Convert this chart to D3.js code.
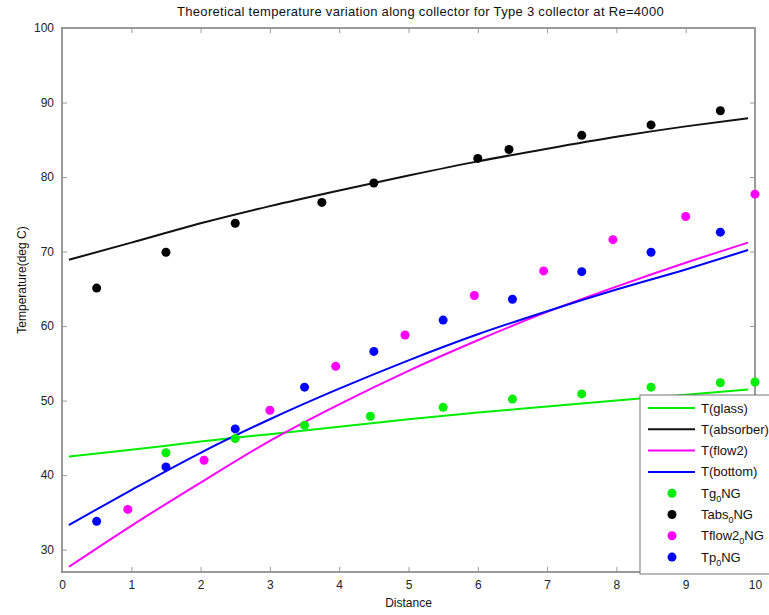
<!DOCTYPE html>
<html>
<head>
<meta charset="utf-8">
<script src="https://cdn.jsdelivr.net/npm/d3@7"></script>
<style>
html,body{margin:0;padding:0;background:#fff;}
svg{display:block;font-family:"Liberation Sans",Arial,sans-serif;}
</style>
</head>
<body>
<svg id="chart" width="769" height="615"></svg>
<script>
// ---- data ----
const titleText = "Theoretical temperature variation along collector for Type 3 collector at Re=4000";
const xLabel = "Distance";
const yLabel = "Temperature(deg C)";
const xTicks = [0,1,2,3,4,5,6,7,8,9,10];
const yTicks = [30,40,50,60,70,80,90,100];

// theoretical curves
const lineX      = [0.1, 1, 2, 3, 4, 5, 6, 7, 8, 9, 9.9];
const tGlass     = [42.5, 43.4, 44.5, 45.5, 46.5, 47.5, 48.4, 49.2, 50.0, 50.8, 51.5];
const tAbsorber  = [68.9, 71.2, 73.8, 76.1, 78.2, 80.2, 82.1, 83.8, 85.4, 86.8, 87.9];
const tFlow2     = [27.7, 33.2, 39.0, 44.6, 49.5, 54.0, 58.1, 61.9, 65.3, 68.5, 71.2];
const tBottom    = [33.3, 38.0, 43.0, 47.5, 51.6, 55.4, 58.9, 62.0, 64.9, 67.6, 70.2];

// measured points
const tgX    = [1.5, 2.5, 3.5, 4.45, 5.5, 6.5, 7.5, 8.5, 9.5, 10];
const tgY    = [43.0, 44.9, 46.7, 47.9, 49.1, 50.2, 50.9, 51.8, 52.4, 52.5];
const tabsX  = [0.5, 1.5, 2.5, 3.75, 4.5, 6.0, 6.45, 7.5, 8.5, 9.5];
const tabsY  = [65.1, 69.9, 73.8, 76.6, 79.2, 82.5, 83.7, 85.6, 87.0, 88.9];
const tflX   = [0.95, 2.05, 3.0, 3.95, 4.95, 5.95, 6.95, 7.95, 9.0, 10.0];
const tflY   = [35.4, 42.0, 48.7, 54.6, 58.8, 64.1, 67.4, 71.6, 74.7, 77.7];
const tpX    = [0.5, 1.5, 2.5, 3.5, 4.5, 5.5, 6.5, 7.5, 8.5, 9.5];
const tpY    = [33.8, 41.1, 46.2, 51.8, 56.6, 60.8, 63.6, 67.3, 69.9, 72.6];

const lineSeries = [
  {name:"T(glass)", y:tGlass, color:"#00ee00"},
  {name:"T(absorber)", y:tAbsorber, color:"#111111"},
  {name:"T(flow2)", y:tFlow2, color:"#ff00ff"},
  {name:"T(bottom)", y:tBottom, color:"#0000ff"}
];
const pointSeries = [
  {pre:"Tg", post:"NG", x:tgX, y:tgY, color:"#00ee00"},
  {pre:"Tabs", post:"NG", x:tabsX, y:tabsY, color:"#000000"},
  {pre:"Tflow2", post:"NG", x:tflX, y:tflY, color:"#ff00ff"},
  {pre:"Tp", post:"NG", x:tpX, y:tpY, color:"#0000ff"}
];

// ---- layout ----
const L = 62, R = 755, T = 28, B = 572;
const svg = d3.select("#chart");
const x = d3.scaleLinear().domain([0,10]).range([L,R]);
const y = d3.scaleLinear().domain([27,100]).range([B,T]);
const axisColor = "#9a9a9a";

// frame
svg.append("rect").attr("x",L).attr("y",T).attr("width",R-L).attr("height",B-T)
  .attr("fill","#fff").attr("stroke",axisColor).attr("stroke-width",2);

function styleAxis(g){
  g.select(".domain").remove();
  g.selectAll(".tick line").attr("stroke",axisColor).attr("stroke-width",1);
  g.selectAll(".tick text").attr("fill","#222").attr("font-size",12);
}
svg.append("g").attr("transform",`translate(0,${B})`)
  .call(d3.axisBottom(x).tickValues(xTicks).tickFormat(d3.format("d")).tickSizeInner(-5).tickSizeOuter(0).tickPadding(8))
  .call(styleAxis);
svg.append("g").attr("transform",`translate(0,${T})`)
  .call(d3.axisTop(x).tickValues(xTicks).tickFormat("").tickSizeInner(-5).tickSizeOuter(0))
  .call(styleAxis);
svg.append("g").attr("transform",`translate(${L},0)`)
  .call(d3.axisLeft(y).tickValues(yTicks).tickFormat(d3.format("d")).tickSizeInner(-5).tickSizeOuter(0).tickPadding(8))
  .call(styleAxis);
svg.append("g").attr("transform",`translate(${R},0)`)
  .call(d3.axisRight(y).tickValues(yTicks).tickFormat("").tickSizeInner(-5).tickSizeOuter(0))
  .call(styleAxis);

// title and labels
svg.append("text").attr("x",(L+R)/2+12).attr("y",16).attr("text-anchor","middle")
  .attr("font-size",13).attr("letter-spacing",0.3).attr("fill","#111").text(titleText);
svg.append("text").attr("x",(L+R)/2).attr("y",607).attr("text-anchor","middle")
  .attr("font-size",12).attr("fill","#111").text(xLabel);
svg.append("text").attr("transform","translate(26,280) rotate(-90)").attr("text-anchor","middle")
  .attr("font-size",12).attr("fill","#111").text(yLabel);

// lines
const line = d3.line().x((d,i)=>x(lineX[i])).y(d=>y(d)).curve(d3.curveMonotoneX);
lineSeries.forEach(s=>{
  svg.append("path").attr("d",line(s.y)).attr("fill","none")
    .attr("stroke",s.color).attr("stroke-width",2);
});

// points
pointSeries.forEach(s=>{
  svg.append("g").selectAll("circle").data(s.y).join("circle")
    .attr("cx",(d,i)=>x(s.x[i])).attr("cy",d=>y(d)).attr("r",4.5).attr("fill",s.color);
});

// legend
const lg = svg.append("g");
lg.append("rect").attr("x",640).attr("y",395).attr("width",140).attr("height",179)
  .attr("fill","#fff").attr("stroke","#777").attr("stroke-width",1);
const rowY = i => 408 + i*21.3;
lineSeries.forEach((s,i)=>{
  lg.append("line").attr("x1",648).attr("x2",695).attr("y1",rowY(i)).attr("y2",rowY(i))
    .attr("stroke",s.color).attr("stroke-width",2);
  lg.append("text").attr("x",701).attr("y",rowY(i)+4.5).attr("font-size",13).attr("fill","#111").text(s.name);
});
pointSeries.forEach((s,j)=>{
  const i = j+4;
  lg.append("circle").attr("cx",672).attr("cy",rowY(i)).attr("r",4.5).attr("fill",s.color);
  const t = lg.append("text").attr("x",701).attr("y",rowY(i)+4.5).attr("font-size",13).attr("fill","#111");
  t.append("tspan").text(s.pre);
  t.append("tspan").attr("dy",4).attr("font-size",9).text("0");
  t.append("tspan").attr("dy",-4).text(s.post);
});
</script>
</body>
</html>
